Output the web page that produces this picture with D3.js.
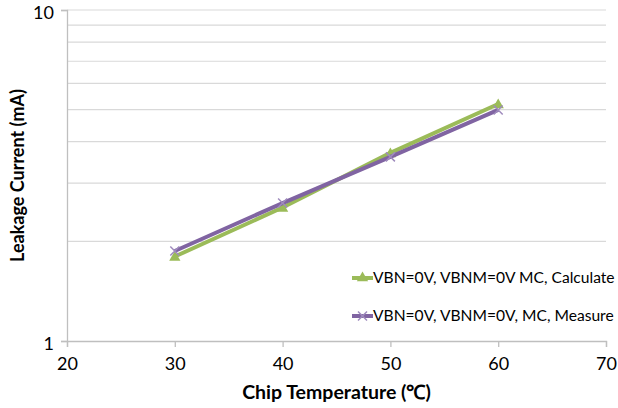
<!DOCTYPE html>
<html>
<head>
<meta charset="utf-8">
<script src="https://cdn.jsdelivr.net/npm/d3@7/dist/d3.min.js"></script>
<style>
  html, body { margin: 0; padding: 0; background: #fff; }
  svg { display: block; font-family: Lato, "Open Sans", sans-serif; }
</style>
</head>
<body>
<svg id="chart" width="618" height="408"></svg>
<script>
// Chip temperature (°C) for each measurement
const temperatures = [30, 40, 50, 60];
// Leakage current (mA), calculated by Monte Carlo model
const calculated = [1.80, 2.53, 3.70, 5.20];
// Leakage current (mA), measured
const measured = [1.87, 2.61, 3.60, 4.99];
const seriesNames = ["VBN=0V, VBNM=0V MC, Calculate", "VBN=0V, VBNM=0V, MC, Measure"];
const xTicks = [20, 30, 40, 50, 60, 70];
const yTicks = [1, 10];
const yGrid = [2, 3, 4, 5, 6, 7, 8, 9, 10];

const svg = d3.select("#chart");
const margin = { left: 67, right: 12, top: 10, bottom: 67 };
const W = 618, H = 408;

const x = d3.scaleLinear().domain([20, 70]).range([margin.left, W - margin.right]);
const y = d3.scaleLog().domain([1, 10]).range([H - margin.bottom, margin.top]);

// horizontal gridlines
svg.append("g").selectAll("line").data(yGrid).join("line")
  .attr("x1", x(20)).attr("x2", x(70))
  .attr("y1", d => y(d)).attr("y2", d => y(d))
  .attr("stroke", "#d9d9d9").attr("stroke-width", 1.2);

// axes
const xAxis = svg.append("g").attr("transform", `translate(0,${y(1)})`)
  .call(d3.axisBottom(x).tickValues(xTicks).tickSize(6).tickPadding(8).tickFormat(d3.format("d")));
const yAxis = svg.append("g").attr("transform", `translate(${x(20)},0)`)
  .call(d3.axisLeft(y).tickValues(yTicks).tickSize(6).tickPadding(7).tickFormat(d3.format("d")));
[xAxis, yAxis].forEach(a => {
  a.select(".domain").attr("stroke", "#bfbfbf").attr("stroke-width", 1.3);
  a.selectAll(".tick line").attr("stroke", "#bfbfbf").attr("stroke-width", 1.3);
  a.selectAll(".tick text").attr("fill", "#000").attr("font-size", 18)
    .attr("font-family", "Lato, 'Open Sans', sans-serif");
});
xAxis.selectAll(".tick text").attr("dy", "0.85em");
yAxis.selectAll(".tick text").attr("dy", "0.45em");

// axis titles
svg.append("text").attr("x", (x(20) + x(70)) / 2).attr("y", 399)
  .attr("text-anchor", "middle").attr("font-size", 19.5).attr("font-weight", "bold")
  .text("Chip Temperature (℃)");
svg.append("text").attr("transform", `translate(24,${(y(1) + y(10)) / 2}) rotate(-90)`)
  .attr("text-anchor", "middle").attr("font-size", 18).attr("font-weight", "bold")
  .text("Leakage Current (mA)");

const green = "#9bbb59", purple = "#8064a2";
const line = d3.line().x(d => x(d[0])).y(d => y(d[1]));
const calcPts = temperatures.map((t, i) => [t, calculated[i]]);
const measPts = temperatures.map((t, i) => [t, measured[i]]);

const tri = d3.symbol().type(d3.symbolTriangle).size(55);

// calculated series
svg.append("path").datum(calcPts).attr("d", line)
  .attr("fill", "none").attr("stroke", green).attr("stroke-width", 4);
svg.append("g").selectAll("path").data(calcPts).join("path")
  .attr("d", tri).attr("transform", d => `translate(${x(d[0])},${y(d[1]) + 1})`)
  .attr("fill", green);

// measured series
svg.append("path").datum(measPts).attr("d", line)
  .attr("fill", "none").attr("stroke", purple).attr("stroke-width", 4);
function cross(g, cx, cy, r) {
  g.append("path").attr("d", `M${cx - r},${cy - r}L${cx + r},${cy + r}M${cx - r},${cy + r}L${cx + r},${cy - r}`)
    .attr("stroke", "#9f8bbd").attr("stroke-width", 1.5).attr("fill", "none");
}
const mg = svg.append("g");
measPts.forEach(d => cross(mg, x(d[0]), y(d[1]), 4.5));

// legend
const legend = svg.append("g");
const legY = [278, 316];
const legCol = [green, purple];
legY.forEach((ly, i) => {
  legend.append("line").attr("x1", 352).attr("x2", 373).attr("y1", ly).attr("y2", ly)
    .attr("stroke", legCol[i]).attr("stroke-width", 4);
  if (i === 0) {
    legend.append("path").attr("d", tri).attr("transform", `translate(362.5,${ly})`).attr("fill", green);
  } else {
    cross(legend, 362.5, ly, 4.5);
  }
  legend.append("text").attr("x", 373).attr("y", ly).attr("dy", "0.35em")
    .attr("font-size", 15.6).attr("fill", "#000").text(seriesNames[i]);
});
</script>
</body>
</html>
